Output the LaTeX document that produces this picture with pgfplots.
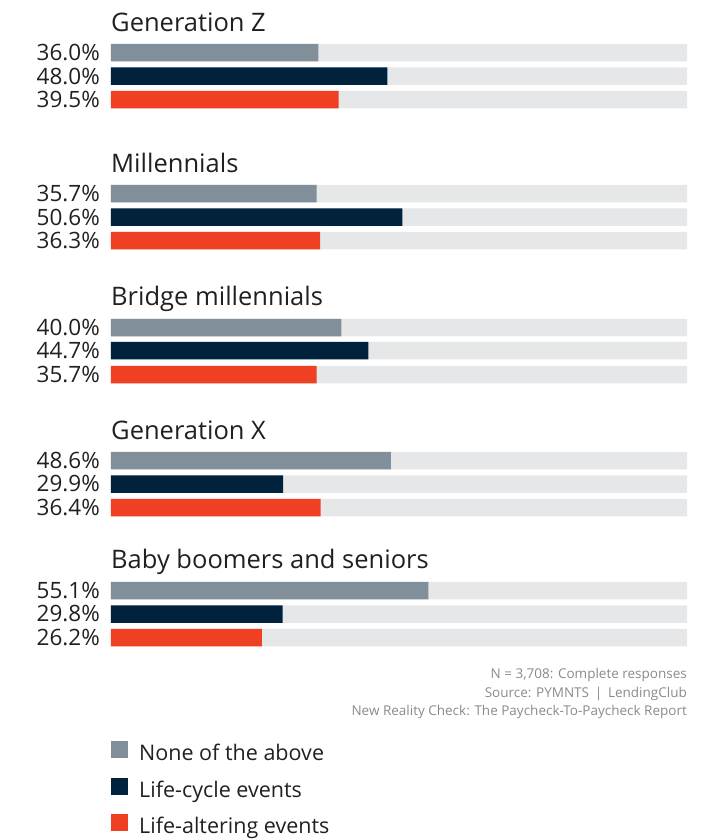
\documentclass[border=0pt]{standalone}
\usepackage{pgfplots}
\pgfplotsset{compat=1.18}
\usepackage{fontspec}
\setmainfont{Open Sans}
\definecolor{cgrey}{HTML}{808F9A}
\definecolor{cnavy}{HTML}{01223D}
\definecolor{cred}{HTML}{F04024}
\definecolor{cbg}{HTML}{E6E7E9}
\definecolor{ctext}{HTML}{231F20}
\definecolor{cfoot}{HTML}{8A8A8A}
\begin{document}
\begin{tikzpicture}
\useasboundingbox (-111pt,0pt) rectangle (592pt,839pt);
\begin{axis}[
  at={(0pt,0pt)}, anchor=south west,
  scale only axis, width=576pt, height=839pt,
  xmin=0, xmax=100, ymin=0, ymax=839, y dir=reverse,
  axis line style={draw=none}, major tick length=0pt,
  xtick=\empty,
  ytick={52.5,76,99.5,193.5,217,240.5,327.5,350.5,374.5,460.5,484,507.5,590.5,614,637.5},
  yticklabels={36.0\%,48.0\%,39.5\%,35.7\%,50.6\%,36.3\%,40.0\%,44.7\%,35.7\%,48.6\%,29.9\%,36.4\%,55.1\%,29.8\%,26.2\%},
  yticklabel style={font=\fontsize{22.5}{22.5}\selectfont, text=ctext, anchor=east, inner sep=0pt, xshift=-11pt},
  xbar, bar shift=0pt, bar width=17.5, clip=false,
  legend cell align=left,
  legend style={at={(axis cs:0,741)}, anchor=north west, draw=none, fill=none,
    inner sep=0pt, font=\fontsize{21.5}{21.5}\selectfont, text=ctext,
    nodes={inner sep=0pt, text height=16pt, text depth=5pt},
    row sep=12pt},
  legend image code/.code={\fill[#1] (0pt,-3pt) rectangle (17pt,14pt); \path (28pt,0pt);},
]
\addplot[fill=cbg, draw=none, forget plot] coordinates {
 (100,52.5) (100,76) (100,99.5) (100,193.5) (100,217) (100,240.5)
 (100,327.5) (100,350.5) (100,374.5) (100,460.5) (100,484) (100,507.5)
 (100,590.5) (100,614) (100,637.5)};
\addplot[fill=cgrey, draw=none] coordinates {(36.0,52.5) (35.7,193.5) (40.0,327.5) (48.6,460.5) (55.1,590.5)};
\addplot[fill=cnavy, draw=none] coordinates {(48.0,76) (50.6,217) (44.7,350.5) (29.9,484) (29.8,614)};
\addplot[fill=cred, draw=none] coordinates {(39.5,99.5) (36.3,240.5) (35.7,374.5) (36.4,507.5) (26.2,637.5)};
\legend{None of the above, Life-cycle events, Life-altering events}
\begin{scope}[every node/.style={anchor=base west, inner sep=0pt, text=ctext, font=\fontsize{25.5}{25.5}\selectfont}]
\node at (axis cs:0,31) {Generation Z};
\node at (axis cs:0,172) {Millennials};
\node at (axis cs:0,305) {Bridge millennials};
\node at (axis cs:0,439) {Generation X};
\node at (axis cs:0,568) {Baby boomers and seniors};
\end{scope}
\begin{scope}[every node/.style={anchor=base east, inner sep=0pt, text=cfoot, font=\fontsize{13.5}{13.5}\selectfont}]
\node at (axis cs:100,678) {N = 3,708: Complete responses};
\node at (axis cs:100,697) {Source: PYMNTS \,|\, LendingClub};
\node at (axis cs:100,715) {New Reality Check: The Paycheck-To-Paycheck Report};
\end{scope}
\end{axis}
\end{tikzpicture}
\end{document}
